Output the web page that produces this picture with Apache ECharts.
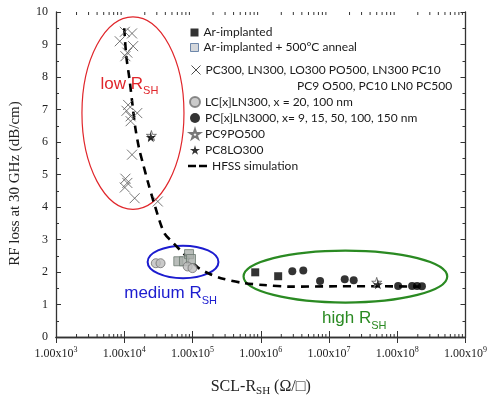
<!DOCTYPE html>
<html>
<head>
<meta charset="utf-8">
<script src="https://cdn.jsdelivr.net/npm/echarts@6/dist/echarts.min.js"></script>
<style>
html, body { margin: 0; padding: 0; background: #fff; }
#main { width: 490px; height: 402px; }
</style>
</head>
<body>
<div id="main"></div>
<script>
// values
const arImplantedX = [8.3e5, 1.8e6];
const arImplantedY = [1.99, 1.87];
const annealX = [6.2e4, 7.5e4, 8.9e4, 9.5e4];
const annealY = [2.33, 2.33, 2.55, 2.40];
const crossX = [1.02e4, 1.30e4, 8.6e3, 1.35e4, 1.11e4, 1.04e4, 1.14e4, 1.08e4, 1.55e4, 1.24e4, 1.24e4, 1.30e4, 1.04e4, 1.11e4, 1.02e4, 1.42e4, 3.1e4];
const crossY = [9.39, 9.34, 9.10, 8.95, 8.75, 8.64, 7.14, 6.96, 6.89, 6.79, 6.64, 5.61, 4.87, 4.74, 4.60, 4.27, 4.17];
const lcX = [2.9e4, 3.4e4, 8.5e4, 1.0e5];
const lcY = [2.27, 2.27, 2.17, 2.12];
const pcLnX = [2.9e6, 4.2e6, 7.4e6, 1.7e7, 2.3e7, 1.03e8, 1.65e8, 1.95e8, 2.3e8];
const pcLnY = [2.02, 2.05, 1.72, 1.78, 1.75, 1.57, 1.57, 1.57, 1.56];
const pc9X = [2.5e4, 5.0e7];
const pc9Y = [6.20, 1.68];
const pc8X = [2.45e4, 5.2e7];
const pc8Y = [6.15, 1.62];
const hfssX = [1.0e4, 1.07e4, 1.19e4, 1.32e4, 1.45e4, 1.65e4, 1.9e4, 2.2e4, 2.75e4, 3.85e4, 5.2e4, 7.0e4, 1.2e5, 1.7e5, 2.6e5, 5.6e5, 1.1e6, 2.7e6, 1.3e7, 5.5e7, 2.1e8];
const hfssY = [9.5, 8.65, 7.95, 7.15, 6.45, 5.8, 5.3, 4.8, 4.1, 3.2, 2.9, 2.62, 2.14, 1.96, 1.81, 1.66, 1.6, 1.55, 1.56, 1.56, 1.55];

const names = {
    ar: 'Ar-implanted',
    anneal: 'Ar-implanted + 500°C anneal',
    cross: 'PC300, LN300, LO300 PO500, LN300 PC10',
    cross2: 'PC9 O500, PC10 LN0 PC500',
    lc: 'LC[x]LN300, x = 20, 100 nm',
    pc: 'PC[x]LN3000, x= 9, 15, 50, 100, 150 nm',
    pc9: 'PC9PO500',
    pc8: 'PC8LO300',
    hfss: 'HFSS simulation'
};

// regions drawn as ellipses, given by corners in data units
const lowBox = [[2.4e3, 9.85], [7.5e4, 3.93]];
const mediumBox = [[2.2e4, 2.81], [2.4e5, 1.81]];
const highBox = [[5.6e5, 2.66], [5.4e8, 1.06]];

const xMin = 1e3, xMax = 1e9;

function zip(xs, ys) {
    return xs.map(function (x, i) { return [x, ys[i]]; });
}

// log minor ticks 2..9 per decade
let minorTicks = [];
for (let d = 3; d < 9; d++) {
    for (let m = 2; m <= 9; m++) {
        minorTicks.push([m * Math.pow(10, d), 0]);
    }
}

const crossPath = 'path://M0,0L10,10M10,0L0,10';
const starPath = 'path://M50,0L61,35L98,35L68,57L79,91L50,70L21,91L32,57L2,35L39,35Z';
const dashIcon = 'path://M0,0h8v2.6h-8zM11,0h8v2.6h-8z';
const serif = 'Liberation Serif';
const sans = 'Lato';

let chart = echarts.init(document.getElementById('main'));

function legendText(lh) {
    return { fontFamily: sans, fontSize: 12, color: '#1a1a1a', lineHeight: lh };
}

let axisCommon = {
    axisLine: { show: true, lineStyle: { color: '#333', width: 1.3 } },
    splitLine: { show: false }
};

let option = {
    animation: false,
    grid: { left: 54, right: 23, top: 12, bottom: 59 },
    legend: [
        {
            orient: 'vertical', left: 190, top: 25, padding: 0, itemGap: 0,
            itemWidth: 8, itemHeight: 8, selectedMode: false,
            textStyle: legendText(15),
            data: [
                names.ar,
                { name: names.anneal, itemStyle: { color: '#c9cdd2', borderColor: '#4f6f9a', borderWidth: 1 } }
            ]
        },
        {
            orient: 'vertical', left: 191, top: 62, padding: 0, itemGap: 0,
            itemWidth: 9, itemHeight: 9, selectedMode: false,
            textStyle: legendText(16),
            data: [{ name: names.cross, itemStyle: { color: 'rgba(0,0,0,0)', borderColor: '#222', borderWidth: 1 } }]
        },
        {
            orient: 'vertical', left: 189, top: 94, padding: 0, itemGap: 0,
            itemWidth: 10, itemHeight: 10, selectedMode: false,
            textStyle: legendText(16),
            data: [names.lc, names.pc, names.pc9, names.pc8]
        },
        {
            orient: 'vertical', left: 188, top: 158, padding: 0, itemGap: 0,
            itemWidth: 19, itemHeight: 10, selectedMode: false,
            textStyle: legendText(16),
            data: [{ name: names.hfss, icon: dashIcon, itemStyle: { color: '#000' } }]
        }
    ],
    xAxis: [
        Object.assign({
            type: 'log', logBase: 10, min: xMin, max: xMax, splitNumber: 6,
            position: 'bottom',
            axisTick: { inside: true, length: 6, lineStyle: { color: '#333' } },
            axisLabel: {
                margin: 9,
                formatter: function (v) {
                    return '{b|1.00x10}{s|' + Math.round(Math.log10(v)) + '}';
                },
                rich: {
                    b: { fontFamily: serif, fontSize: 12, color: '#222', lineHeight: 14 },
                    s: { fontFamily: serif, fontSize: 8, color: '#222', padding: [0, 0, 7, 0] }
                }
            },
            name: '{a|SCL-R}{b|SH}{a| (Ω/□)}',
            nameLocation: 'middle',
            nameGap: 39,
            nameTextStyle: {
                rich: {
                    a: { fontFamily: serif, fontSize: 16, color: '#222', lineHeight: 19 },
                    b: { fontFamily: serif, fontSize: 11, color: '#222', padding: [10, 0, 0, 0] }
                }
            }
        }, axisCommon),
        Object.assign({
            type: 'log', logBase: 10, min: xMin, max: xMax, splitNumber: 6,
            position: 'top',
            axisTick: { inside: true, length: 6, lineStyle: { color: '#333' } },
            axisLabel: { show: false }
        }, axisCommon)
    ],
    yAxis: [
        Object.assign({
            type: 'value', min: 0, max: 10, interval: 1, position: 'left',
            axisTick: { inside: true, length: 5, lineStyle: { color: '#333' } },
            minorTick: { show: true, splitNumber: 2, length: 3, lineStyle: { color: '#333' } },
            axisLabel: { margin: 8, fontFamily: serif, fontSize: 12, color: '#222' },
            name: 'RF loss at 30 GHz (dB/cm)',
            nameLocation: 'middle',
            nameGap: 33,
            nameTextStyle: { fontFamily: serif, fontSize: 15, color: '#222', padding: [0, 18, 0, 0] }
        }, axisCommon),
        Object.assign({
            type: 'value', min: 0, max: 10, interval: 1, position: 'right',
            axisTick: { inside: true, length: 5, lineStyle: { color: '#333' } },
            minorTick: { show: true, splitNumber: 2, length: 3, lineStyle: { color: '#333' } },
            axisLabel: { show: false }
        }, axisCommon)
    ],
    series: [
        {
            name: names.hfss,
            type: 'line',
            data: zip(hfssX, hfssY),
            smooth: 0.3,
            showSymbol: false,
            symbol: 'none',
            z: 1,
            lineStyle: { color: '#000', width: 2.6, type: [8, 6] },
            itemStyle: { color: '#000' }
        },
        {
            name: names.cross,
            type: 'scatter',
            symbol: crossPath,
            symbolSize: 10,
            data: zip(crossX, crossY),
            itemStyle: { color: 'rgba(0,0,0,0)', borderColor: '#555', borderWidth: 1 }
        },
        {
            name: names.ar,
            type: 'scatter',
            symbol: 'rect',
            symbolSize: 8,
            data: zip(arImplantedX, arImplantedY),
            itemStyle: { color: '#000' }
        },
        {
            name: names.anneal,
            type: 'scatter',
            symbol: 'rect',
            symbolSize: 9,
            data: zip(annealX, annealY),
            itemStyle: { color: '#a9aeaa', borderColor: '#6b7a70', borderWidth: 1 }
        },
        {
            name: names.lc,
            type: 'scatter',
            symbol: 'circle',
            symbolSize: 9,
            data: zip(lcX, lcY),
            itemStyle: { color: '#bdbdbd', borderColor: '#6f6f6f', borderWidth: 1 }
        },
        {
            name: names.pc,
            type: 'scatter',
            symbol: 'circle',
            symbolSize: 8,
            data: zip(pcLnX, pcLnY),
            itemStyle: { color: '#000' }
        },
        {
            name: names.pc9,
            type: 'scatter',
            symbol: starPath,
            symbolSize: 10,
            data: zip(pc9X, pc9Y),
            itemStyle: { color: '#fff', borderColor: '#555', borderWidth: 1 }
        },
        {
            name: names.pc8,
            type: 'scatter',
            symbol: starPath,
            symbolSize: 10,
            data: zip(pc8X, pc8Y),
            itemStyle: { color: '#000' }
        },
        {
            name: 'minor ticks',
            type: 'custom',
            silent: true,
            data: minorTicks,
            clip: false,
            renderItem: function (params, api) {
                let p = api.coord([api.value(0), 0]);
                let cs = params.coordSys;
                let top = cs.y, bottom = cs.y + cs.height;
                return {
                    type: 'group',
                    children: [
                        { type: 'line', shape: { x1: p[0], y1: bottom, x2: p[0], y2: bottom - 3 }, style: { stroke: '#333', lineWidth: 1 } },
                        { type: 'line', shape: { x1: p[0], y1: top, x2: p[0], y2: top + 3 }, style: { stroke: '#333', lineWidth: 1 } }
                    ]
                };
            }
        }
    ]
};

chart.setOption(option);

function toPx(pt) {
    return chart.convertToPixel({ xAxisIndex: 0, yAxisIndex: 0 }, pt);
}

function ellipse(box, color, width) {
    let a = toPx(box[0]), b = toPx(box[1]);
    return {
        type: 'ellipse', z: 0, silent: true,
        shape: { cx: (a[0] + b[0]) / 2, cy: (a[1] + b[1]) / 2, rx: Math.abs(b[0] - a[0]) / 2, ry: Math.abs(b[1] - a[1]) / 2 },
        style: { fill: 'none', stroke: color, lineWidth: width }
    };
}

function regionLabel(pt, word, color) {
    let p = toPx(pt);
    return {
        type: 'text', x: p[0], y: p[1], silent: true,
        style: {
            text: '{a|' + word + 'R}{b|SH}',
            verticalAlign: 'middle',
            rich: {
                a: { fontFamily: 'Liberation Sans', fontSize: 17, fill: color, lineHeight: 20 },
                b: { fontFamily: 'Liberation Sans', fontSize: 11, fill: color, padding: [14, 0, 0, 0] }
            }
        }
    };
}

let cross2Pos = [297, 86];

chart.setOption({
    graphic: [
        ellipse(lowBox, '#e0262b', 1.2),
        ellipse(mediumBox, '#1c1ccf', 2),
        ellipse(highBox, '#2a8a22', 2.2),
        regionLabel([4.5e3, 7.78], 'low ', '#e0262b'),
        regionLabel([1.0e4, 1.33], 'medium ', '#1c1ccf'),
        regionLabel([7.9e6, 0.57], 'high ', '#2a8a22'),
        {
            type: 'text', x: cross2Pos[0], y: cross2Pos[1], silent: true,
            style: { text: names.cross2, fontFamily: sans, fontSize: 12, fill: '#1a1a1a', verticalAlign: 'middle' }
        }
    ]
});

window.addEventListener('resize', function () {
    chart.resize();
});
</script>
</body>
</html>
